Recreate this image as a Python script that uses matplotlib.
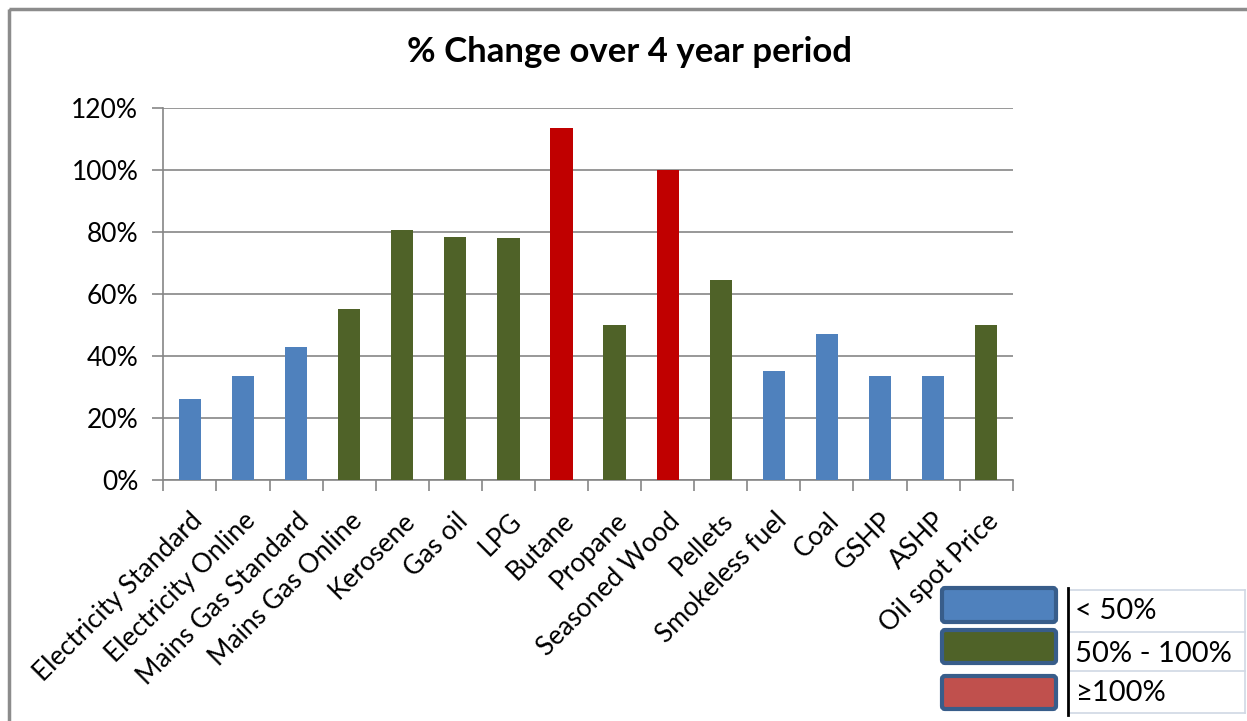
import matplotlib.pyplot as plt
from matplotlib.patches import Rectangle, FancyBboxPatch
from matplotlib.ticker import FuncFormatter, MultipleLocator

plt.rcParams['font.family'] = ['Lato', 'DejaVu Sans']

categories = ['Electricity Standard', 'Electricity Online', 'Mains Gas Standard',
              'Mains Gas Online', 'Kerosene', 'Gas oil', 'LPG', 'Butane', 'Propane',
              'Seasoned Wood', 'Pellets', 'Smokeless fuel', 'Coal', 'GSHP', 'ASHP',
              'Oil spot Price']
pct_change = [26.2, 33.7, 43.1, 55.2, 80.8, 78.6, 78.3, 113.7, 50.2,
              100.0, 64.6, 35.2, 47.2, 33.7, 33.7, 50.0]
band_labels = ['< 50%', '50% - 100%', '\u2265100%']

BLUE, GREEN, RED = '#4F81BD', '#4F6228', '#C00000'


def band_colour(v):
    if v < 50:
        return BLUE
    if v < 100:
        return GREEN
    return RED


fig = plt.figure(figsize=(12.47, 7.21), dpi=100)

# full-figure pixel canvas for the frame and the key table
bg = fig.add_axes([0, 0, 1, 1])
bg.set_xlim(0, 1247)
bg.set_ylim(721, 0)
bg.axis('off')
bg.add_patch(Rectangle((9, 9), 1260, 740, fill=False, edgecolor='#8C8C8C', lw=2.5))

ax = fig.add_axes([0.131, 0.3337, 0.6811, 0.5161])
x = list(range(len(categories)))
ax.bar(x, pct_change, width=0.42, color=[band_colour(v) for v in pct_change], zorder=3)
ax.set_xlim(-0.5, len(categories) - 0.5)
ax.set_ylim(0, 120)
ax.yaxis.set_major_locator(MultipleLocator(20))
ax.yaxis.set_major_formatter(FuncFormatter(lambda v, _: f'{v:.0f}%'))
ax.grid(axis='y', color='#868686', lw=1.2, zorder=0)
for s in ['top', 'right']:
    ax.spines[s].set_visible(False)
for s in ['left', 'bottom']:
    ax.spines[s].set_color('#868686')
    ax.spines[s].set_linewidth(1.2)
ax.tick_params(axis='y', length=8, color='#868686', width=1.2, labelsize=19, pad=10)

# category ticks sit between the bars, labels centred under each bar
ax.set_xticks([i - 0.5 for i in range(len(categories) + 1)])
ax.set_xticklabels([])
ax.tick_params(axis='x', which='major', length=8, color='#868686', width=1.2)
ax.set_xticks(x, minor=True)
ax.set_xticklabels(categories, minor=True, rotation=45, ha='right', va='top',
                   rotation_mode='anchor', fontsize=19)
ax.tick_params(axis='x', which='minor', length=0, pad=20)

fig.text(0.505, 0.928, '% Change over 4 year period', ha='center', va='center',
         fontsize=25, fontweight='bold')

# colour key drawn as a small table
swatch_fill = ['#4F81BD', '#4F6228', '#C0504D']
swatch_top = [588, 630, 676]
swatch_h = [34, 33, 33]
for fc, y0, h in zip(swatch_fill, swatch_top, swatch_h):
    bg.add_patch(FancyBboxPatch((942, y0), 114, h, boxstyle='round,pad=0,rounding_size=3',
                                facecolor=fc, edgecolor='#385D8A', lw=3))
row_lines = [590, 632, 671, 713]
for yl in row_lines:
    bg.plot([1068, 1245], [yl, yl], color='#D0D8E4', lw=1.2)
bg.plot([1245, 1245], [590, 713], color='#D0D8E4', lw=1.2)
bg.plot([1068, 1068], [588, 715], color='black', lw=2)
for lab, yc in zip(band_labels, [611, 654, 693]):
    bg.text(1075, yc, lab, ha='left', va='center', fontsize=21)

fig.savefig('out.png', dpi=100)
